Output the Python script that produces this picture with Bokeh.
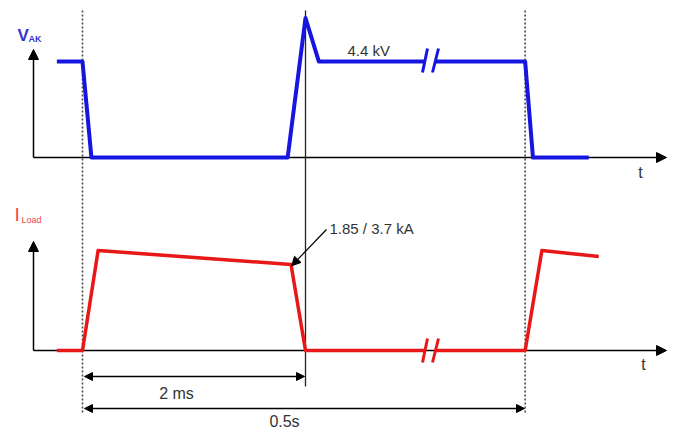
from bokeh.plotting import figure
from bokeh.models import Range1d, Arrow, NormalHead, Label
from bokeh.embed import file_html
from bokeh.resources import INLINE

# ---------------- data ----------------
# schematic time axis in ms; the axis is broken between 3.07 and 3.17
v_time_a = [-0.23, 0.0, 0.08, 1.84, 2.0, 2.12, 3.07]
v_kv_a = [4.4, 4.4, 0.0, 0.0, 6.4, 4.4, 4.4]
v_time_b = [3.17, 3.97, 4.04, 4.54]
v_kv_b = [4.4, 4.4, 0.0, 0.0]

i_time_a = [-0.23, 0.0, 0.14, 1.87, 2.0, 3.07]
i_ka_a = [0.0, 0.0, 2.15, 1.85, 0.0, 0.0]
i_time_b = [3.17, 3.97, 4.12, 4.63]
i_ka_b = [0.0, 0.0, 2.15, 2.02]

t_on = 0.0       # first switch-on
t_off = 2.0      # switch-off after 2 ms
t_next = 3.97    # next pulse after 0.5 s
v_level = 4.4
i_level = 1.85
i_point_t = 1.87

labels_text = {"v": "4.4 kV", "i": "1.85 / 3.7 kA", "d1": "2 ms", "d2": "0.5s"}

# ---------------- layout helpers (pixel geometry of the drawing) ----------------
W, H = 674, 430
T0_PX, PX_PER_MS = 82.0, 111.5
V0_PX, PX_PER_KV = 157.0, 21.8
I0_PX, PX_PER_KA = 350.0, 46.5


def tx(px):
    return (px - T0_PX) / PX_PER_MS


def vy(py):
    return (V0_PX - py) / PX_PER_KV


def iy(py):
    return (I0_PX - py) / PX_PER_KA


BLUE = "#1616e0"
RED = "#e81818"
FONT = "Liberation Sans"

p = figure(width=W, height=H, output_backend="svg", toolbar_location=None,
           x_range=Range1d(tx(0), tx(W)), y_range=Range1d(vy(H), vy(0)),
           x_axis_location=None, y_axis_location=None, min_border=0,
           outline_line_color=None, background_fill_color="white")
p.extra_y_ranges = {"i": Range1d(iy(H), iy(0))}
p.xgrid.visible = False
p.ygrid.visible = False

# axes with arrowheads (drawn beneath the waveforms)
def axis_arrow(x0, y0, x1, y1, rng="default"):
    a = Arrow(end=NormalHead(size=10, fill_color="black", line_color="black"),
              x_start=x0, y_start=y0, x_end=x1, y_end=y1,
              line_color="black", line_width=1.5, level="underlay")
    if rng != "default":
        a.y_range_name = rng
    p.add_layout(a)


axis_arrow(tx(33), vy(157), tx(33), vy(49))
axis_arrow(tx(33), vy(157), tx(666), vy(157))
axis_arrow(tx(33), iy(350), tx(33), iy(241), "i")
axis_arrow(tx(33), iy(350), tx(666), iy(350), "i")

# vertical marker lines
p.segment(x0=[t_on, t_next], y0=[vy(10), vy(10)], x1=[t_on, t_next], y1=[vy(414), vy(414)],
          line_color="#4a4a4a", line_width=1.6, line_dash="2 2")
p.segment(x0=[t_off], y0=[vy(10)], x1=[t_off], y1=[vy(386)], line_color="#222222", line_width=1.3)

# waveforms
p.line(v_time_a, v_kv_a, line_color=BLUE, line_width=4, line_join="round")
p.line(v_time_b, v_kv_b, line_color=BLUE, line_width=4, line_join="round")
p.line(i_time_a, i_ka_a, line_color=RED, line_width=3.5, line_join="round", y_range_name="i")
p.line(i_time_b, i_ka_b, line_color=RED, line_width=3.5, line_join="round", y_range_name="i")

# break marks
p.segment(x0=[tx(422), tx(432)], y0=[vy(72), vy(72)], x1=[tx(427), tx(438)], y1=[vy(48), vy(48)],
          line_color=BLUE, line_width=3)
p.segment(x0=[tx(422), tx(432)], y0=[iy(362), iy(362)], x1=[tx(427), tx(438)], y1=[iy(338), iy(338)],
          line_color=RED, line_width=3, y_range_name="i")

# annotation arrow
ann = Arrow(end=NormalHead(size=9, fill_color="black", line_color="black"),
            x_start=tx(326), y_start=iy(229), x_end=i_point_t + 0.005, y_end=i_level - 0.03,
            line_color="black", line_width=1.2, y_range_name="i")
p.add_layout(ann)

# dimension arrows
for px_end, py in [(304, 376), (524, 408)]:
    d = Arrow(start=NormalHead(size=8, fill_color="black", line_color="black"),
              end=NormalHead(size=8, fill_color="black", line_color="black"),
              x_start=tx(84), y_start=iy(py), x_end=tx(px_end), y_end=iy(py),
              line_color="black", line_width=1.5, y_range_name="i")
    p.add_layout(d)


def lab(x, y, text, size, color="#333333", align="left", baseline="middle", rng=None, style="normal"):
    l = Label(x=x, y=y, text=text, text_font=FONT, text_font_size=size, text_color=color,
              text_align=align, text_baseline=baseline, text_font_style=style)
    if rng:
        l.y_range_name = rng
    p.add_layout(l)


lab(tx(347), vy(50), labels_text["v"], "15px")
lab(tx(329), iy(228), labels_text["i"], "15px", rng="i")
lab(tx(176), iy(393), labels_text["d1"], "16px", align="center", rng="i")
lab(tx(284), iy(421), labels_text["d2"], "16px", align="center", rng="i")
lab(tx(640), vy(172), "t", "16px", align="center")
lab(tx(643), iy(364), "t", "16px", align="center", rng="i")

# signal names
lab(tx(17), vy(35), "V", "17px", color="#3434cc", style="bold")
lab(tx(28), vy(38), "AK", "9px", color="#3434cc", style="bold")
lab(tx(14), iy(214), "I", "19px", color="#f04848", rng="i")
lab(tx(21), iy(219), "Load", "9px", color="#f04848", rng="i")

open("out.html", "w").write(file_html(p, INLINE))
